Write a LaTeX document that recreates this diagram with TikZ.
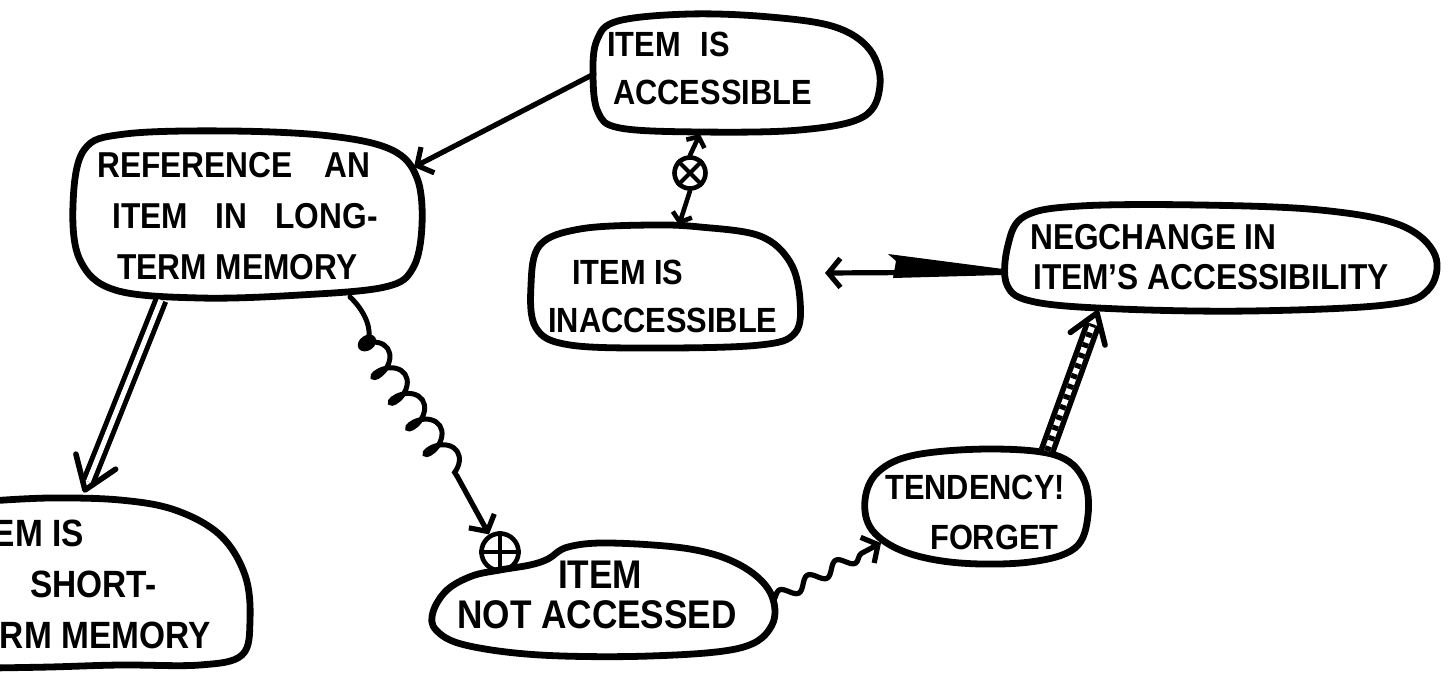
\documentclass[tikz,border=0pt]{standalone}
\usepackage{fontspec}
\setmainfont{Liberation Sans}[FakeStretch=0.88]
\usetikzlibrary{arrows.meta,decorations.pathmorphing,calc}
\begin{document}
\begin{tikzpicture}[x=1pt,y=-1pt,
  blob/.style={line width=6.8pt,line join=round,line cap=round},
  hand/.style={anchor=north west,align=left,inner sep=0pt},
  link/.style={line width=5.2pt,line cap=round,line join=round,
    -{Straight Barb[length=12pt,width=29pt,line width=5.2pt]}},
  minilink/.style={line width=4.6pt,line cap=round,
    -{Straight Barb[length=8pt,width=20pt,line width=4.6pt]}},
  head/.style={line width=5.6pt,line cap=round,line join=round},
  marker/.style={circle,draw,line width=4.6pt,inner sep=0pt},
]
\useasboundingbox (0,0) rectangle (1447,676);
\fill[white] (0,0) rectangle (1447,676);

% ---------- outlines ----------
\draw[blob] plot[smooth cycle,tension=0.6] coordinates {(597,40) (618,21) (690,14) (770,17) (835,27) (870,50) (880,85) (863,117) (800,130) (700,132) (620,128) (598,112) (593,75)};
\draw[blob] plot[smooth cycle,tension=0.6] coordinates {(540,245) (580,229) (650,225) (700,227) (760,236) (790,262) (800,300) (795,333) (760,345) (660,348) (570,345) (536,328) (531,285)};
\draw[blob] plot[smooth cycle,tension=0.6] coordinates {(84,150) (125,134) (230,131) (330,136) (392,150) (417,178) (422,225) (413,268) (385,287) (300,295) (200,298) (115,290) (80,260) (73,205)};
\draw[blob] plot[smooth,tension=0.6] coordinates {(-10,501) (50,498) (120,500) (175,510) (220,535) (245,575) (250,620) (242,655) (200,665) (120,665) (50,667) (-10,668)};
\draw[blob] plot[smooth cycle,tension=0.6] coordinates {(433,612) (447,590) (472,576) (500,570) (530,565) (548,559) (568,547) (610,543) (690,549) (740,565) (770,592) (772,625) (740,648) (650,656) (540,655) (465,645) (436,630)};
\draw[blob] plot[smooth cycle,tension=0.6] coordinates {(865,500) (878,472) (915,455) (990,449) (1055,455) (1083,478) (1088,515) (1075,548) (1030,562) (960,563) (905,552) (872,530)};
\draw[blob] plot[smooth cycle,tension=0.6] coordinates {(1008,245) (1025,216) (1080,206) (1200,205) (1320,210) (1400,225) (1435,255) (1428,290) (1385,305) (1250,311) (1120,309) (1035,302) (1007,285)};

% ---------- texts ----------
\node[hand,font=\bfseries\fontsize{35}{48}\selectfont] (acc) at (607,32)
  {ITEM\hspace{20pt}IS\\\hspace*{6pt}ACCESSIBLE};
\node[hand,font=\bfseries\fontsize{35}{48}\selectfont] (inacc) at (548,260)
  {\hspace*{24pt}ITEM IS\\INACCESSIBLE};
\node[hand,font=\bfseries\fontsize{36}{51}\selectfont] (ref) at (97,152)
  {REFERENCE\hspace{32pt}AN\\\hspace*{15pt}ITEM\hspace{28pt}IN\hspace{28pt}LONG-\\\hspace*{20pt}TERM MEMORY};
\node[hand,font=\bfseries\fontsize{38}{51}\selectfont] (stm) at (-43,520)
  {\hspace*{6pt}ITEM IS\\\hspace*{73pt}SHORT-\\TERM MEMORY};
\node[hand,font=\bfseries\fontsize{40}{40}\selectfont] (nacc) at (457,561)
  {\hspace*{101pt}ITEM\\NOT ACCESSED};
\node[hand,font=\bfseries\fontsize{35}{50}\selectfont] (tend) at (885,475)
  {TENDENCY!\\\hspace*{45pt}FORGET};
\node[hand,font=\bfseries\fontsize{36}{40}\selectfont] (neg) at (1030,224)
  {NEGCHANGE IN\\\hspace*{3pt}ITEM'S ACCESSIBILITY};

% ---------- attachment points on the outlines ----------
\coordinate (acc-w) at (594,74);
\coordinate (acc-s) at (700,134);
\coordinate (inacc-n) at (679,225);
\coordinate (inacc-e) at (825,273);
\coordinate (ref-e) at (414,167);
\coordinate (ref-s) at (161,300);
\coordinate (ref-c) at (350,297);
\coordinate (stm-n) at (85,490);
\coordinate (nacc-e) at (773,600);
\coordinate (tend-w) at (881,543);
\coordinate (tend-n) at (1047,451);
\coordinate (neg-w) at (1005,272);
\coordinate (neg-s) at (1097,313);

% ---------- connectors ----------
% accessible -> reference
\draw[link] (acc-w) -- (ref-e);

% accessible <-x-> inaccessible
\node[marker,minimum size=31pt] (xo) at (690,173) {};
\draw[line width=4pt] (xo.45) -- (xo.225) (xo.135) -- (xo.315);
\draw[minilink] (xo.north) -- (acc-s);
\draw[minilink] (xo.south) -- (inacc-n);

% negative change -> inaccessible, with a tapered wedge
\draw[link] (neg-w) -- (inacc-e);
\fill (888,254) -- (896,261) -- (893,278) -- (1003,275) -- (1003,269) -- cycle;

% reference => short-term memory (hollow double shaft)
\coordinate (dbl-e) at ($(stm-n)!9pt!(ref-s)$);
\draw[line width=5pt,double distance=5pt,line cap=butt] (ref-s) -- (dbl-e);
\draw[head] ($(stm-n)!37pt!36:(ref-s)$) -- (stm-n) -- ($(stm-n)!37pt!-34:(ref-s)$);

% reference ~coil~> not accessed (via the circled plus)
\node[marker,minimum size=37pt] (op) at (500,552) {};
\draw[line width=4pt] (op.north) -- (op.south) (op.west) -- (op.east);
\coordinate (coil-a) at (367,343);
\coordinate (coil-b) at (457,476);
\draw[line width=5pt,line cap=round] (ref-c) .. controls (362,308) and (374,328) .. (coil-a);
\fill[rotate around={35:(coil-a)}] (coil-a) ellipse [x radius=10pt,y radius=7.5pt];
\draw[line width=5pt,line cap=round,decorate,
  decoration={coil,amplitude=14pt,segment length=31pt,aspect=0.6}] (coil-a) -- (coil-b);
\draw[link] (coil-b) -- (op.122);

% not accessed ~> tendency
\draw[link,decorate,decoration={snake,amplitude=6pt,segment length=32pt,post length=14pt}]
  (nacc-e) -- (tend-w);

% tendency => negative change (ladder shaft)
\coordinate (lad-e) at ($(neg-s)!12pt!(tend-n)$);
\draw[line width=17pt,line cap=butt] (tend-n) -- (lad-e);
\draw[white,line width=6pt,line cap=butt] (tend-n) -- (lad-e);
\draw[line width=6pt,line cap=butt,dash pattern=on 5pt off 6pt] (tend-n) -- (lad-e);
\draw[head] ($(neg-s)!33pt!34:(tend-n)$) -- (neg-s) -- ($(neg-s)!33pt!-34:(tend-n)$);
\end{tikzpicture}
\end{document}
